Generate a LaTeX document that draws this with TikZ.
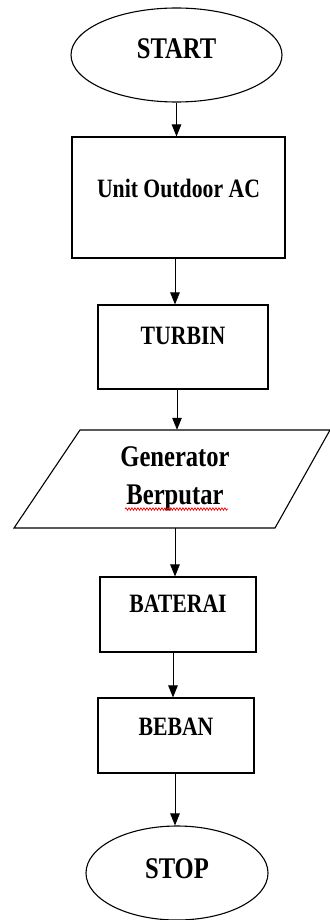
\documentclass[tikz,border=0pt]{standalone}
\usepackage{fontspec}
\setmainfont{Liberation Serif}[FakeStretch=0.82]
\usetikzlibrary{shapes.geometric,arrows.meta,decorations.pathmorphing,calc}
\tikzset{
  shapeline/.style={draw=black, line width=1.1pt, inner sep=0pt, font=\bfseries},
  bigtext/.style={font=\fontsize{30}{36}\selectfont\bfseries},
  smalltext/.style={font=\fontsize{26.5}{32}\selectfont\bfseries},
  term/.style={shapeline, ellipse, bigtext},
  procbox/.style={shapeline, rectangle, smalltext},
  arr/.style={draw=black, line width=1pt, -{Triangle[length=12pt,width=9.5pt]}}
}
\begin{document}
\begin{tikzpicture}[x=1pt,y=-1pt]
\useasboundingbox (0,0) rectangle (329,920);
% terminals and boxes
\node[term, minimum width=211pt, minimum height=94pt, text height=21pt, text depth=13pt] (start) at (176.5,55) {START};
\node[procbox, minimum width=213pt, minimum height=121pt, text height=19pt, text depth=19pt] (unit) at (178.5,197.5) {Unit Outdoor AC};
\node[procbox, minimum width=170pt, minimum height=84pt, text height=18pt, text depth=24pt] (turbin) at (183,347) {TURBIN};
\node[inner sep=0pt, minimum width=240pt, minimum height=98pt, bigtext, align=center] (gen) at (175,479) {Generator\\[2pt]Berputar};
\draw[line width=1.1pt] ($(gen.center)+(-95,-49)$) -- ($(gen.center)+(155,-49)$) -- ($(gen.center)+(100,49)$) -- ($(gen.center)+(-161,49)$) -- cycle;
\node[procbox, minimum width=156pt, minimum height=75pt, text height=18pt, text depth=23pt] (bat) at (178,614.5) {BATERAI};
\node[procbox, minimum width=156pt, minimum height=75pt, text height=18pt, text depth=18pt] (beban) at (176,735.5) {BEBAN};
\node[term, minimum width=182pt, minimum height=94pt, text height=21pt, text depth=11pt] (stop) at (177,873) {STOP};
% spell-check underline
\draw[red, line width=0.7pt, decorate, decoration={snake, segment length=3pt, amplitude=1.2pt}] (125,509) -- (228,509);
% connectors
\draw[arr] (start.south) -- (start.south |- unit.north);
\draw[arr] ([xshift=-3.5pt]unit.south) -- ([xshift=-3.5pt]unit.south |- turbin.north);
\draw[arr] ([xshift=-6pt]turbin.south) -- ([xshift=-6pt]turbin.south |- gen.north);
\draw[arr] (gen.south) -- (gen.south |- bat.north);
\draw[arr] ([xshift=-5pt]bat.south) -- ([xshift=-5pt]bat.south |- beban.north);
\draw[arr] ([xshift=-1pt]beban.south) -- ([xshift=-1pt]beban.south |- stop.north);
\end{tikzpicture}
\end{document}
